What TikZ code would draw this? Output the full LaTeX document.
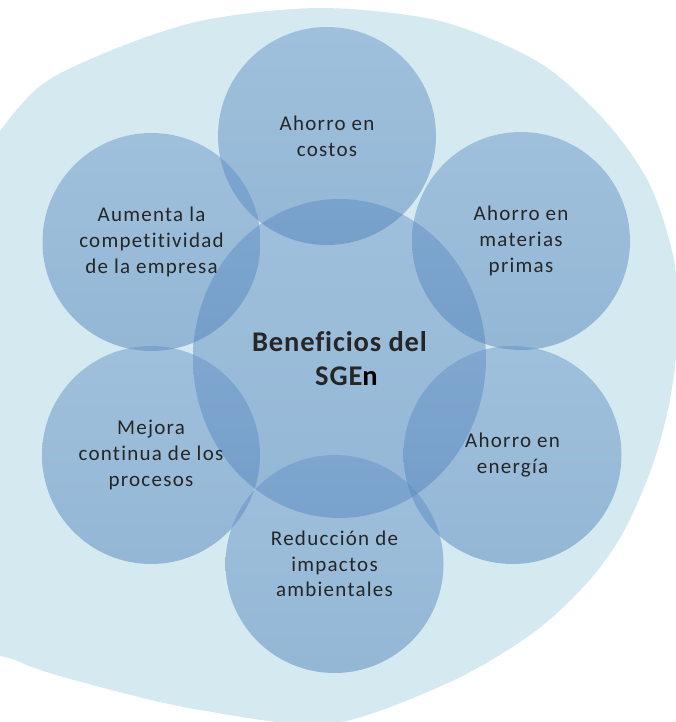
\documentclass[tikz,border=0pt]{standalone}
\usepackage{fontspec}
\setmainfont{Carlito}[Ligatures={NoCommon}]
\newfontfamily\lblfont[LetterSpace=6,Ligatures={NoCommon}]{Carlito}
\newfontfamily\ttlfont[LetterSpace=3,Ligatures={NoCommon}]{Carlito}
\usetikzlibrary{shapes.geometric}
\definecolor{bgblob}{RGB}{212,234,240}
\definecolor{bubtop}{RGB}{98,144,198}
\definecolor{bubbot}{RGB}{72,124,184}
\definecolor{txt}{RGB}{38,38,38}
\begin{document}
\begin{tikzpicture}[x=1pt,y=-1pt,
  bubble/.style={circle, minimum size=218pt, inner sep=0pt,
    top color=bubtop, bottom color=bubbot, draw=none,
    fill opacity=0.46, text opacity=1, text=txt, align=center,
    font=\lblfont\fontsize{21}{25.7}\selectfont},
  hub/.style={bubble, ellipse, minimum width=293pt, minimum height=319pt,
    font=\ttlfont\bfseries\fontsize{28.5}{33.3}\selectfont}]
\useasboundingbox (0,0) rectangle (676,722);
\begin{scope}
  \clip (0,0) rectangle (676,722);
  \fill[bgblob] plot[smooth cycle] coordinates {
    (-60,390) (-30,190) (30,95) (100,55) (200,21) (320,8) (440,21)
    (540,63) (607,123) (650,185) (674,260) (678,330) (670,400)
    (652,467) (623,533) (587,583) (533,633) (450,682) (330,724)
    (200,710) (100,687) (20,662) (-40,620)};
\end{scope}
\node[hub] (hub) at (339.5,358.5) {Beneficios del\\\hspace*{14pt}SGE{\color{black}n}};
\node[bubble] (costos) at (327,136) {Ahorro en\\costos};
\node[bubble] (comp) at (151.5,242) {Aumenta la\\competitividad\\de la empresa};
\node[bubble] (mat) at (521,241) {Ahorro en\\materias\\primas};
\node[bubble] (ener) at (512.5,455) {Ahorro en\\energía};
\node[bubble] (mej) at (151,455) {Mejora\\continua de los\\procesos};
\node[bubble] (amb) at (334.5,564) {Reducción de\\impactos\\ambientales};
\end{tikzpicture}
\end{document}
